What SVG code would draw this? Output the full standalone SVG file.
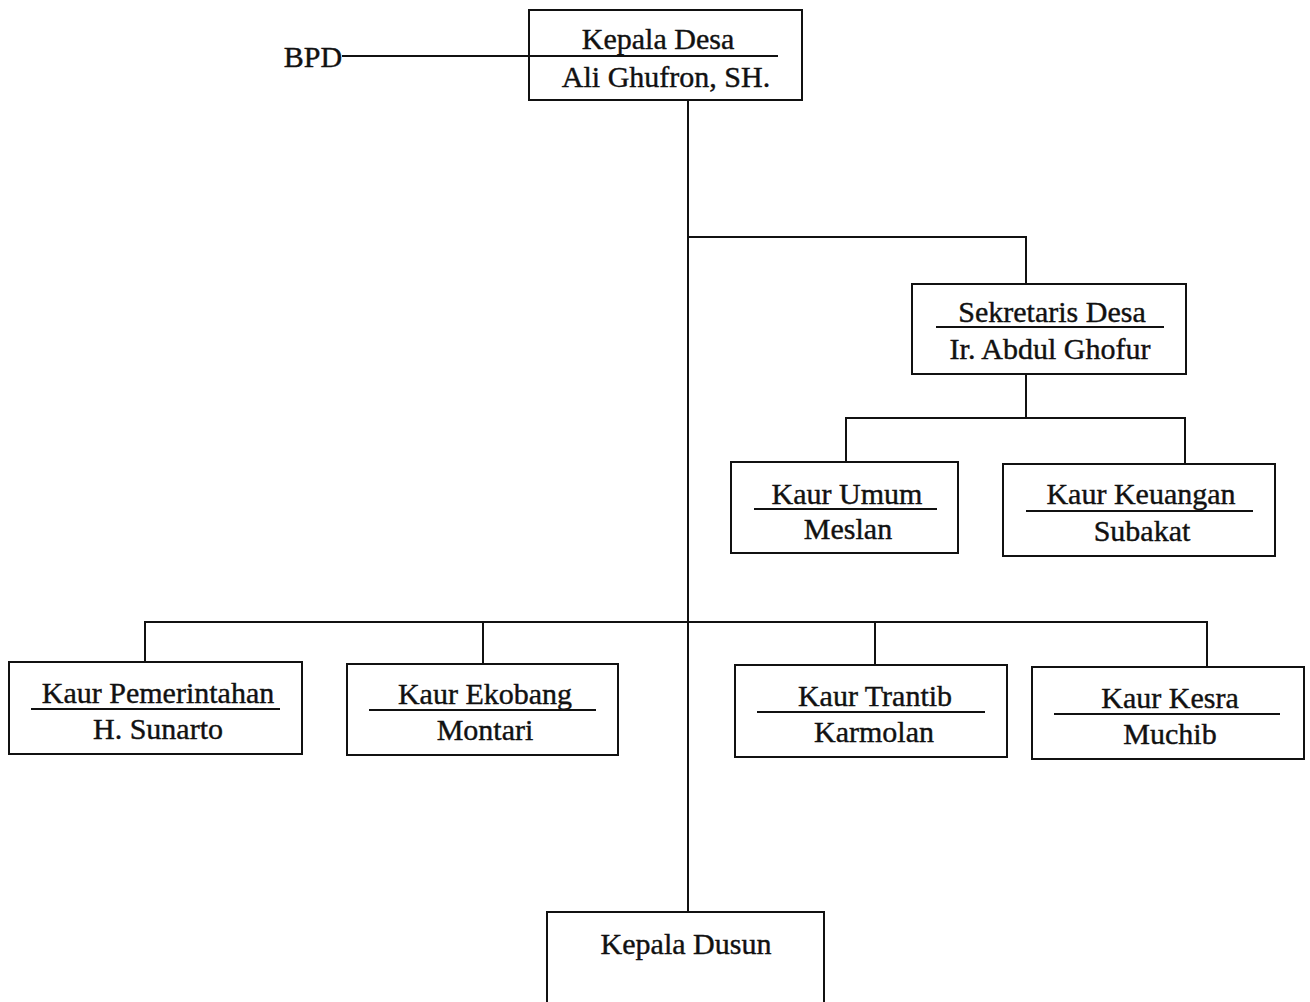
<svg xmlns="http://www.w3.org/2000/svg" width="1310" height="1002" viewBox="0 0 1310 1002">
<style>
.box{fill:#fff;stroke:#111;stroke-width:2}
.ln{fill:none;stroke:#111;stroke-width:2}
text{font-family:"Liberation Serif","Times New Roman",serif;font-size:30px;fill:#111;stroke:#111;stroke-width:0.4;text-anchor:middle}
</style>
<rect width="1310" height="1002" fill="#fff"/>
<g id="connectors">
<path class="ln" d="M342 56H529"/>
<path class="ln" d="M688 100V912"/>
<path class="ln" d="M688 237H1026V284"/>
<path class="ln" d="M1026 374V418"/>
<path class="ln" d="M846 462V418H1185V464"/>
<path class="ln" d="M145 662V622H1207V667"/>
<path class="ln" d="M483 622V664"/>
<path class="ln" d="M875 622V665"/>
</g>
<g id="bpd"><text x="313" y="67">BPD</text></g>
<g id="kepala-desa">
<rect class="box" x="529" y="10" width="273" height="90"/>
<path class="ln" d="M529 56H778"/>
<text x="658" y="49">Kepala Desa</text>
<text x="666" y="87">Ali Ghufron, SH.</text>
</g>
<g id="sekretaris-desa">
<rect class="box" x="912" y="284" width="274" height="90"/>
<path class="ln" d="M936 327H1164"/>
<text x="1052" y="322">Sekretaris Desa</text>
<text x="1050" y="359">Ir. Abdul Ghofur</text>
</g>
<g id="kaur-umum">
<rect class="box" x="731" y="462" width="227" height="91"/>
<path class="ln" d="M754 509H937"/>
<text x="847" y="504">Kaur Umum</text>
<text x="848" y="539">Meslan</text>
</g>
<g id="kaur-keuangan">
<rect class="box" x="1003" y="464" width="272" height="92"/>
<path class="ln" d="M1026 511H1253"/>
<text x="1141" y="504">Kaur Keuangan</text>
<text x="1142" y="541">Subakat</text>
</g>
<g id="kaur-pemerintahan">
<rect class="box" x="9" y="662" width="293" height="92"/>
<path class="ln" d="M31 709H280"/>
<text x="158" y="703">Kaur Pemerintahan</text>
<text x="158" y="739">H. Sunarto</text>
</g>
<g id="kaur-ekobang">
<rect class="box" x="347" y="664" width="271" height="91"/>
<path class="ln" d="M369 710H596"/>
<text x="485" y="704">Kaur Ekobang</text>
<text x="485" y="740">Montari</text>
</g>
<g id="kaur-trantib">
<rect class="box" x="735" y="665" width="272" height="92"/>
<path class="ln" d="M757 712H985"/>
<text x="875" y="706">Kaur Trantib</text>
<text x="874" y="742">Karmolan</text>
</g>
<g id="kaur-kesra">
<rect class="box" x="1032" y="667" width="272" height="92"/>
<path class="ln" d="M1054 714H1280"/>
<text x="1170" y="708">Kaur Kesra</text>
<text x="1170" y="744">Muchib</text>
</g>
<g id="kepala-dusun">
<rect class="box" x="547" y="912" width="277" height="100"/>
<text x="686" y="954">Kepala Dusun</text>
</g>
</svg>
